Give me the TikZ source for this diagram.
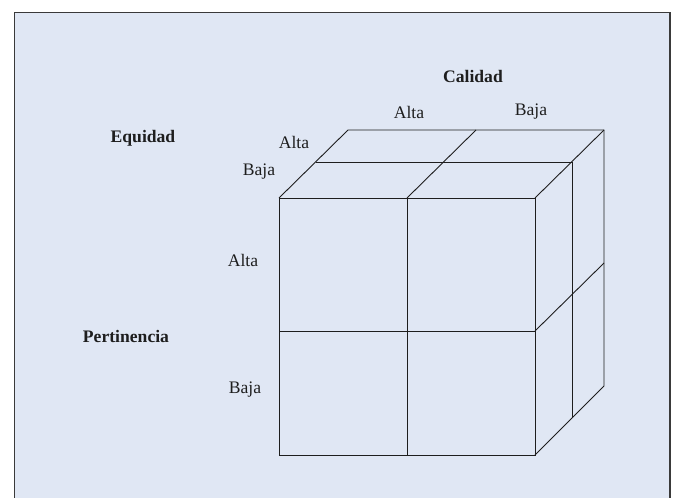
\documentclass[tikz,border=0pt]{standalone}
\usepackage{fontspec}
\setmainfont{Liberation Serif}
\definecolor{bgblue}{HTML}{E0E7F4}
\definecolor{framegray}{HTML}{3A3A3A}
\definecolor{ink}{HTML}{1E1E1E}
\begin{document}
\begin{tikzpicture}[x=1pt,y=-1pt,
  cubeline/.style={draw=ink,line width=0.9pt,line join=miter},
  lbl/.style={inner sep=0pt,font=\fontsize{17.6}{20}\selectfont,text=ink},
  head/.style={lbl,font=\fontsize{17.6}{20}\selectfont\bfseries}]
\useasboundingbox (0,0) rectangle (675,498);
\fill[bgblue] (14.5,12.5) rectangle (670,498);
\draw[framegray,line width=1.5pt] (14.5,498) -- (14.5,12.5) -- (670,12.5) -- (670,498);
% front face
\coordinate (f1) at (279,198); \coordinate (f2) at (535,198);
\coordinate (f3) at (535,455); \coordinate (f4) at (279,455);
\coordinate (fm1) at (407,198); \coordinate (fm2) at (407,455);
\coordinate (fh1) at (279,331); \coordinate (fh2) at (535,331);
% middle layer
\coordinate (m1) at (316,162); \coordinate (m2) at (572,162); \coordinate (m3) at (572,418);
% back layer
\coordinate (b1) at (348,130); \coordinate (b2) at (604,130); \coordinate (b3) at (604,386);
\coordinate (bm) at (476,130); \coordinate (bh) at (604,263);
\draw[cubeline] (f1) rectangle (f3);
\draw[cubeline] (fm1) -- (fm2);
\draw[cubeline] (fh1) -- (fh2);
\draw[cubeline] (f1) -- (b1) -- (b2) -- (b3) -- (f3);
\draw[cubeline] (f2) -- (b2);
\draw[cubeline] (fm1) -- (bm);
\draw[cubeline] (fh2) -- (bh);
\draw[cubeline] (m1) -- (m2) -- (m3);
% labels
\node[head] (calidad) at (473,76) {Calidad};
\node[lbl] (caltA) at (409,112) {Alta};
\node[lbl] (caltB) at (531,112) {Baja};
\node[head] (equidad) at (143,138) {Equidad};
\node[lbl] (eqA) at (294,142) {Alta};
\node[lbl] (eqB) at (259,172) {Baja};
\node[head] (pert) at (126,336) {Pertinencia};
\node[lbl] (peA) at (243,260) {Alta};
\node[lbl] (peB) at (245,390) {Baja};
\end{tikzpicture}
\end{document}
